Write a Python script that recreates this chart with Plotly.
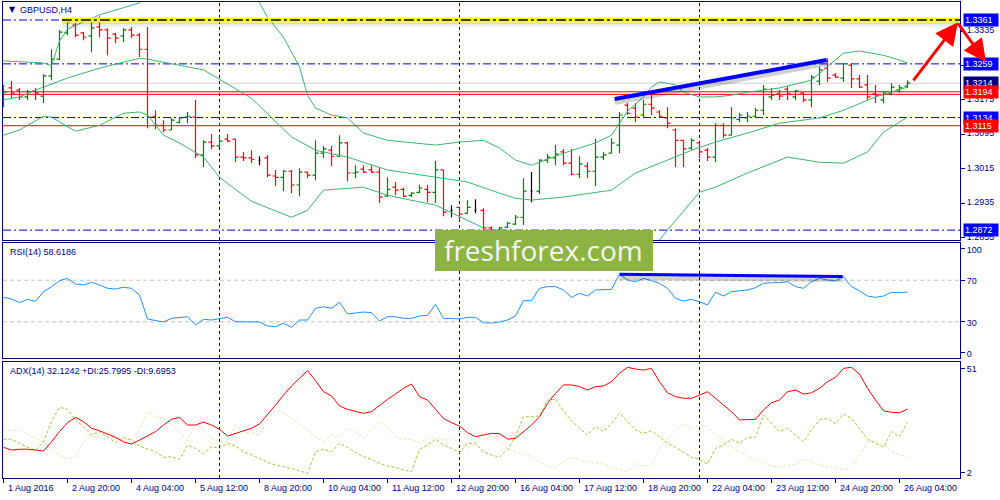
import plotly.graph_objects as go

# ------------------------------------------------------------------ data
x_label_bars = [0, 8, 16, 24, 32, 40, 48, 56, 64, 72, 80, 88, 96, 104, 112]
x_labels = ["1 Aug 2016", "2 Aug 20:00", "4 Aug 04:00", "5 Aug 12:00", "8 Aug 20:00",
            "10 Aug 04:00", "11 Aug 12:00", "12 Aug 20:00", "16 Aug 04:00", "17 Aug 12:00",
            "18 Aug 20:00", "22 Aug 04:00", "23 Aug 12:00", "24 Aug 20:00", "26 Aug 04:00"]
week_start_bars = [27, 57, 87]

opens = [1.3179, 1.3203, 1.3198, 1.3182, 1.3196, 1.3184, 1.3231, 1.3270, 1.3331, 1.3349,
         1.3331, 1.3324, 1.3345, 1.3338, 1.3328, 1.3324, 1.3338, 1.3326, 1.3293, 1.3137,
         1.3116, 1.3105, 1.3123, 1.3135, 1.3135, 1.3047, 1.3077, 1.3068, 1.3084, 1.3084,
         1.3042, 1.3040, 1.3035, 1.3040, 1.2998, 1.2995, 1.3009, 1.2977, 1.3007, 1.3000,
         1.3051, 1.3058, 1.3044, 1.3075, 1.3005, 1.3014, 1.3012, 1.3007, 1.2951, 1.2972,
         1.2967, 1.2953, 1.2960, 1.2967, 1.2960, 1.3012, 1.2918, 1.2925, 1.2911, 1.2918,
         1.2918, 1.2877, 1.2872, 1.2879, 1.2886, 1.2902, 1.2963, 1.2963, 1.3035, 1.3040,
         1.3054, 1.3028, 1.3002, 1.3021, 1.3009, 1.3042, 1.3051, 1.3070, 1.3163, 1.3156,
         1.3140, 1.3165, 1.3147, 1.3133, 1.3105, 1.3081, 1.3063, 1.3075, 1.3058, 1.3042,
         1.3116, 1.3093, 1.3130, 1.3133, 1.3137, 1.3151, 1.3182, 1.3189, 1.3200, 1.3182,
         1.3191, 1.3175, 1.3219, 1.3249, 1.3233, 1.3226, 1.3256, 1.3224, 1.3210, 1.3189,
         1.3175, 1.3189, 1.3198, 1.3207]
highs = [1.3210, 1.3219, 1.3203, 1.3198, 1.3203, 1.3235, 1.3293, 1.3338, 1.3363, 1.3354,
         1.3333, 1.3361, 1.3370, 1.3342, 1.3331, 1.3342, 1.3345, 1.3331, 1.3345, 1.3151,
         1.3128, 1.3133, 1.3133, 1.3147, 1.3175, 1.3081, 1.3096, 1.3091, 1.3096, 1.3084,
         1.3054, 1.3058, 1.3044, 1.3047, 1.3012, 1.3012, 1.3012, 1.3016, 1.3007, 1.3081,
         1.3068, 1.3068, 1.3093, 1.3077, 1.3023, 1.3023, 1.3023, 1.3019, 1.2995, 1.2984,
         1.2970, 1.2960, 1.2977, 1.2977, 1.3033, 1.3012, 1.2930, 1.2925, 1.2942, 1.2944,
         1.2923, 1.2881, 1.2879, 1.2891, 1.2907, 1.2993, 1.3007, 1.3037, 1.3049, 1.3070,
         1.3061, 1.3061, 1.3044, 1.3030, 1.3084, 1.3054, 1.3086, 1.3147, 1.3168, 1.3168,
         1.3175, 1.3186, 1.3151, 1.3158, 1.3109, 1.3081, 1.3086, 1.3077, 1.3063, 1.3121,
         1.3121, 1.3158, 1.3144, 1.3147, 1.3156, 1.3210, 1.3203, 1.3198, 1.3207, 1.3198,
         1.3193, 1.3233, 1.3252, 1.3272, 1.3238, 1.3261, 1.3261, 1.3233, 1.3233, 1.3210,
         1.3193, 1.3214, 1.3210, 1.3221]
lows = [1.3158, 1.3179, 1.3175, 1.3175, 1.3175, 1.3168, 1.3221, 1.3268, 1.3326, 1.3321,
        1.3314, 1.3286, 1.3321, 1.3279, 1.3307, 1.3310, 1.3319, 1.3275, 1.3109, 1.3107,
        1.3100, 1.3105, 1.3121, 1.3121, 1.3040, 1.3019, 1.3061, 1.3065, 1.3077, 1.3030,
        1.3033, 1.3028, 1.3023, 1.2995, 1.2974, 1.2963, 1.2958, 1.2951, 1.2993, 1.2988,
        1.3040, 1.3021, 1.3042, 1.2986, 1.2993, 1.3005, 1.3005, 1.2935, 1.2949, 1.2953,
        1.2949, 1.2949, 1.2958, 1.2937, 1.2935, 1.2904, 1.2902, 1.2895, 1.2911, 1.2911,
        1.2872, 1.2867, 1.2867, 1.2877, 1.2884, 1.2884, 1.2937, 1.2956, 1.3028, 1.3023,
        1.3023, 1.3000, 1.2993, 1.2993, 1.2974, 1.3035, 1.3051, 1.3051, 1.3140, 1.3123,
        1.3135, 1.3140, 1.3133, 1.3109, 1.3019, 1.3019, 1.3058, 1.3040, 1.3033, 1.3030,
        1.3086, 1.3093, 1.3123, 1.3123, 1.3135, 1.3140, 1.3175, 1.3175, 1.3175, 1.3175,
        1.3170, 1.3158, 1.3210, 1.3217, 1.3226, 1.3217, 1.3203, 1.3203, 1.3175, 1.3168,
        1.3168, 1.3186, 1.3191, 1.3203]
closes = [1.3193, 1.3191, 1.3182, 1.3193, 1.3191, 1.3231, 1.3270, 1.3333, 1.3356, 1.3326,
          1.3321, 1.3342, 1.3338, 1.3319, 1.3319, 1.3338, 1.3326, 1.3293, 1.3135, 1.3116,
          1.3105, 1.3128, 1.3133, 1.3137, 1.3047, 1.3077, 1.3068, 1.3079, 1.3079, 1.3042,
          1.3040, 1.3037, 1.3035, 1.3000, 1.2995, 1.3009, 1.2977, 1.3007, 1.3000, 1.3051,
          1.3061, 1.3044, 1.3075, 1.3005, 1.3007, 1.3007, 1.3007, 1.2949, 1.2967, 1.2965,
          1.2951, 1.2958, 1.2970, 1.2960, 1.3012, 1.2914, 1.2918, 1.2909, 1.2925, 1.2918,
          1.2877, 1.2872, 1.2877, 1.2888, 1.2902, 1.2963, 1.2963, 1.3035, 1.3042, 1.3049,
          1.3028, 1.3002, 1.3026, 1.3009, 1.3042, 1.3047, 1.3075, 1.3140, 1.3144, 1.3135,
          1.3165, 1.3156, 1.3137, 1.3121, 1.3081, 1.3061, 1.3081, 1.3054, 1.3042, 1.3116,
          1.3093, 1.3133, 1.3140, 1.3137, 1.3151, 1.3200, 1.3186, 1.3184, 1.3189, 1.3196,
          1.3175, 1.3228, 1.3245, 1.3226, 1.3228, 1.3259, 1.3224, 1.3205, 1.3182, 1.3186,
          1.3191, 1.3205, 1.3203, 1.3214]

bb_upper_bars = [0, 5, 6, 7, 8, 11, 12, 17, 20, 29, 32, 33, 35, 37, 38, 39, 41, 43, 45, 48,
                 54, 57, 60, 62, 64, 66, 70, 74, 76, 77, 78, 80, 81, 82, 84, 85, 87, 89, 91,
                 93, 97, 101, 103, 105, 107, 110, 112, 113]
bb_upper = [1.3266, 1.3261, 1.3255, 1.3312, 1.3340, 1.3366, 1.3373, 1.3401, 1.3460, 1.3460,
            1.3401, 1.3368, 1.3321, 1.3252, 1.3186, 1.3156, 1.3140, 1.3133, 1.3098, 1.3081,
            1.3070, 1.3077, 1.3081, 1.3063, 1.3035, 1.3023, 1.3051, 1.3075, 1.3093, 1.3121,
            1.3149, 1.3182, 1.3205, 1.3217, 1.3210, 1.3193, 1.3182, 1.3182, 1.3186,
            1.3193, 1.3203, 1.3221, 1.3252, 1.3284, 1.3289, 1.3279, 1.3268, 1.3261]
bb_mid_bars = [0, 2, 4, 8, 12, 17, 18, 25, 31, 32, 34, 36, 39, 43, 48, 54, 58, 62, 64, 66,
               70, 76, 79, 83, 86, 89, 93, 97, 102, 105, 109, 113]
bb_mid = [1.3175, 1.3182, 1.3198, 1.3226, 1.3249, 1.3272, 1.3270, 1.3245, 1.3179, 1.3161,
          1.3126, 1.3089, 1.3058, 1.3042, 1.3012, 1.2995, 1.2984, 1.2958, 1.2946, 1.2942,
          1.2949, 1.2965, 1.3005, 1.3035, 1.3058, 1.3077, 1.3098, 1.3121, 1.3133, 1.3151,
          1.3182, 1.3205]
bb_lower_bars = [0, 2, 5, 6, 9, 12, 15, 17, 18, 20, 22, 25, 27, 31, 36, 38, 40, 43, 45, 48,
                 54, 60, 61, 66, 75, 81, 82, 83, 87, 89, 93, 98, 102, 105, 108, 110, 113]
bb_lower = [1.3093, 1.3105, 1.3137, 1.3135, 1.3102, 1.3116, 1.3144, 1.3147, 1.3140, 1.3093,
            1.3075, 1.3042, 1.2995, 1.2939, 1.2902, 1.2918, 1.2965, 1.2970, 1.2972, 1.2953,
            1.2930, 1.2877, 1.2849, 1.2821, 1.2821, 1.2842, 1.2849, 1.2872, 1.2960, 1.2972,
            1.3005, 1.3042, 1.3030, 1.3028, 1.3054, 1.3100, 1.3135]

rsi = [53.5, 52, 48.4, 51.6, 49.7, 59, 63.8, 69.5, 71.8, 66.3,
       65.4, 68, 65.4, 62.2, 61.5, 63.2, 62.2, 55.8, 32.7, 31,
       29.8, 33.3, 34.3, 34.9, 26.9, 32.4, 31.7, 33.3, 34.3, 30.1,
       29.8, 29.5, 29.8, 26, 25.3, 28.6, 24.7, 31.7, 31.7, 43,
       44.5, 43, 48.8, 37.5, 38.8, 39.4, 38.8, 30.8, 34.9, 34.9,
       33.3, 33.3, 35.6, 36.2, 46.8, 33.3, 33.3, 32.7, 34.3, 34.3,
       29.1, 28.8, 29.8, 31.7, 35.6, 50.3, 50.3, 62.2, 63.8, 63.8,
       60.6, 53.5, 57.4, 54.8, 60.6, 61.2, 61.2, 75.7, 70.2, 68.6,
       71.8, 69.5, 67, 62.2, 52.6, 50, 51.6, 49.3, 46.2, 58.4,
       54.8, 59, 59.9, 60.6, 62.8, 67, 67.6, 67.6, 68.6, 63.8,
       62.2, 68.6, 71.8, 70.2, 69.5, 73.4, 63.8, 59.9, 54.8, 53.5,
       54.8, 58.4, 58, 58.6]

adx = [14.1, 12.8, 13.2, 13.2, 12.8, 12.4, 16.7, 21.5, 25.7, 28.2,
       26.2, 23.1, 21.9, 20.4, 18.8, 16.7, 15.6, 17.5, 19.5, 21.5,
       24.6, 27.3, 28.2, 24.6, 24.6, 26, 24.6, 22.6, 19.4, 20.7,
       21.9, 23.1, 25.1, 29.3, 34, 38.7, 43, 46.6, 50.2, 45.5,
       40.3, 38.3, 33.6, 32, 30.9, 30.1, 30.9, 34, 36.7, 39.2,
       41.9, 43.9, 38, 36.4, 32, 27.7, 25.7, 24.1, 21, 19.1,
       19.9, 20.7, 20.5, 18, 18.3, 21.5, 24.6, 28.5, 34.8, 39.5,
       43.5, 43.5, 42.7, 41.1, 42.7, 43, 45, 49, 51.8, 51,
       50.5, 51.3, 45, 39.8, 38, 37.2, 37.2, 38.7, 40.3, 37.2,
       34, 30.9, 27, 27, 27.3, 31.7, 35.1, 36.4, 40.3, 41.1,
       39.2, 39.8, 41.9, 45, 47.1, 51.3, 51.8, 48.6, 41.9, 36.4,
       31.3, 30.6, 30.4, 32.1]
plus_di = [17.9, 17.9, 16, 14.1, 12.8, 16.7, 26.2, 32.9, 32, 27,
           23.8, 19.9, 21.5, 18.8, 16.3, 18.8, 17.5, 14.7, 13.5, 12,
           9.4, 9.7, 8.4, 15.2, 13.6, 11, 14.4, 13.6, 16, 14.7,
           12, 10.5, 8.9, 7, 5.8, 5, 4.2, 3.1, 1.8, 12,
           13.2, 12, 16, 14.1, 11.6, 9.7, 8.4, 6.6, 5.3, 4.7,
           3.4, 2.6, 13.2, 15.2, 17.9, 15.2, 13.6, 11.6, 16, 16,
           12, 10.5, 9.5, 13.2, 19.1, 28.5, 28.5, 28.9, 36.4, 36.7,
           31.3, 26.6, 23.1, 19.9, 23.8, 21.5, 25.4, 30.1, 26.2, 22.3,
           20.7, 21.9, 19.1, 16, 14.1, 11.6, 9.4, 8.4, 6.2, 13.6,
           15.2, 17.9, 16, 18.8, 18.8, 29.3, 25.4, 21.5, 23.1, 19.9,
           16.7, 22.3, 27, 27.7, 25.4, 29.8, 27.7, 23.1, 17.9, 16,
           14.1, 21.5, 19.1, 25.8]
minus_di = [22.8, 21.8, 22.3, 20.4, 18.8, 16.7, 13.2, 10.5, 8.4, 9.7,
            16.7, 19.9, 18.3, 21.9, 19.1, 17.9, 17.5, 22.3, 30.9, 28.5,
            27.7, 25.4, 21, 17.5, 24.6, 22.3, 18.3, 16.7, 16.7, 24.6,
            21.5, 20.7, 19.9, 27, 31.7, 30.4, 27.7, 25.4, 22.3, 19.1,
            16.7, 19.9, 18.8, 23.1, 21.5, 18.3, 22.3, 26.2, 23.8, 18.8,
            17.9, 17.9, 16.3, 18.3, 18.8, 17.5, 18.8, 16, 13.6, 16,
            21.5, 19.9, 17, 13.6, 12, 11, 9.7, 7.3, 5, 4.7,
            7.3, 9.4, 8.4, 7.3, 6.8, 6.2, 4.7, 3.4, 2.6, 6.6,
            5.3, 5.7, 13.6, 18.3, 22.3, 25.4, 22.3, 24.6, 23.8, 19.9,
            17.5, 14.4, 12, 9.7, 8.4, 6.6, 5.3, 4.7, 5.5, 6.2,
            8.4, 7.3, 5.7, 5, 4.2, 3.4, 5, 10.5, 16.7, 17.2,
            15.2, 12, 10.5, 9.7]

price_ticks = [1.3335, 1.3255, 1.3175, 1.3095, 1.3015, 1.2935, 1.2855]
rsi_ticks = [100, 70, 30, 0]
rsi_levels = [70, 30]
adx_ticks = [51, 2]

blue_levels = [1.3361, 1.3259, 1.3134, 1.2872]
red_levels = [1.3194, 1.3188, 1.3115]
bid_level = 1.3214
yellow_level = 1.3361
yellow_start_bar = 7.3
box_values = [1.3361, 1.3259, 1.3214, 1.3194, 1.3134, 1.3115, 1.2872]
box_colors = ["#0000FF", "#0000FF", "#000080", "#FF0000", "#0000FF", "#FF0000", "#0000FF"]

price_trend_bars = [76.4, 102.9]
price_trend_vals = [1.3177, 1.3268]
rsi_trend_bars = [77.0, 104.9]
rsi_trend_vals = [75.7, 73.6]
arrow_up_from = (113.6, 1.3217)
arrow_up_to = (119.3, 1.3356)

symbol_label = "GBPUSD,H4"
rsi_label = "RSI(14) 58.6186"
adx_label = "ADX(14) 32.1242 +DI:25.7995 -DI:9.6953"
watermark = "freshforex.com"

# ------------------------------------------------------------------ style
FONT = "Liberation Sans, Arial, DejaVu Sans, sans-serif"
NAVY = "#000080"
X0, X1 = -0.0625, 119.5625
PRICE_RANGE = [1.2849, 1.3403]
RSI_RANGE = [-4.81, 105.77]
ADX_RANGE = [-0.356, 54.30]
DASHDOT = "8px,3px,2px,3px"

fig = go.Figure()

# OHLC bars
bars = list(range(len(closes)))
groups = [
    ([i for i in bars if closes[i] > opens[i]], "#008000"),
    ([i for i in bars if closes[i] < opens[i]], "#FF0000"),
    ([i for i in bars if closes[i] == opens[i]], "#000000"),
]
for idx, col in groups:
    if not idx:
        continue
    gaps = [b - a for a, b in zip(idx, idx[1:])]
    md = min(gaps) if gaps else 1
    fig.add_trace(go.Ohlc(
        x=idx, open=[opens[i] for i in idx], high=[highs[i] for i in idx],
        low=[lows[i] for i in idx], close=[closes[i] for i in idx],
        increasing=dict(line=dict(color=col, width=1.2)),
        decreasing=dict(line=dict(color=col, width=1.2)),
        tickwidth=min(0.5, 0.38 / md), hoverinfo="skip", xaxis="x", yaxis="y"))

# Bollinger bands
for xs, ys in [(bb_upper_bars, bb_upper), (bb_mid_bars, bb_mid), (bb_lower_bars, bb_lower)]:
    fig.add_trace(go.Scatter(x=xs, y=ys, mode="lines", line=dict(color="#3CB371", width=1),
                             hoverinfo="skip", xaxis="x", yaxis="y"))

# price trend line with shadow
fig.add_trace(go.Scatter(x=price_trend_bars, y=[v - 0.0007 for v in price_trend_vals], mode="lines",
                         line=dict(color="rgba(0,0,0,0.18)", width=6), hoverinfo="skip",
                         xaxis="x", yaxis="y"))
fig.add_trace(go.Scatter(x=price_trend_bars, y=price_trend_vals, mode="lines",
                         line=dict(color="#0000FF", width=4), hoverinfo="skip",
                         xaxis="x", yaxis="y"))

# RSI
fig.add_trace(go.Scatter(x=bars, y=rsi, mode="lines", line=dict(color="#1E90FF", width=1),
                         hoverinfo="skip", xaxis="x2", yaxis="y2"))
fig.add_trace(go.Scatter(x=rsi_trend_bars, y=[v - 3 for v in rsi_trend_vals], mode="lines",
                         line=dict(color="rgba(0,0,0,0.18)", width=5), hoverinfo="skip",
                         xaxis="x2", yaxis="y2"))
fig.add_trace(go.Scatter(x=rsi_trend_bars, y=rsi_trend_vals, mode="lines",
                         line=dict(color="#0000FF", width=3), hoverinfo="skip",
                         xaxis="x2", yaxis="y2"))

# ADX
fig.add_trace(go.Scatter(x=bars, y=minus_di, mode="lines",
                         line=dict(color="#F5DEB3", width=1, dash="3px,2px"),
                         hoverinfo="skip", xaxis="x3", yaxis="y3"))
fig.add_trace(go.Scatter(x=bars, y=plus_di, mode="lines",
                         line=dict(color="#9ACD32", width=1, dash="3px,2px"),
                         hoverinfo="skip", xaxis="x3", yaxis="y3"))
fig.add_trace(go.Scatter(x=bars, y=adx, mode="lines", line=dict(color="#FF0000", width=1),
                         hoverinfo="skip", xaxis="x3", yaxis="y3"))

shapes = []
# horizontal levels
shapes.append(dict(type="line", xref="x domain", x0=0, x1=1, yref="y", y0=bid_level, y1=bid_level,
                   line=dict(color="#D3D3D3", width=1), layer="below"))
for lv in red_levels:
    shapes.append(dict(type="line", xref="x domain", x0=0, x1=1, yref="y", y0=lv, y1=lv,
                       line=dict(color="#FF0000", width=1), layer="below"))
for lv in blue_levels:
    shapes.append(dict(type="line", xref="x domain", x0=0, x1=1, yref="y", y0=lv, y1=lv,
                       line=dict(color="#0000FF", width=1, dash=DASHDOT), layer="below"))
# yellow highlighted level with soft shadow
shapes.append(dict(type="rect", xref="x", x0=yellow_start_bar, x1=X1, yref="y",
                   y0=yellow_level - 0.0017, y1=yellow_level - 0.0006,
                   fillcolor="rgba(0,0,0,0.06)", line=dict(width=0), layer="above"))
shapes.append(dict(type="rect", xref="x", x0=yellow_start_bar, x1=X1, yref="y",
                   y0=yellow_level - 0.0010, y1=yellow_level - 0.0006,
                   fillcolor="rgba(0,0,0,0.10)", line=dict(width=0), layer="above"))
shapes.append(dict(type="line", xref="x", x0=yellow_start_bar, x1=X1, yref="y",
                   y0=yellow_level, y1=yellow_level, line=dict(color="#FFFF00", width=5), layer="above"))
shapes.append(dict(type="line", xref="x", x0=yellow_start_bar, x1=X1, yref="y",
                   y0=yellow_level, y1=yellow_level,
                   line=dict(color="#000000", width=1.5, dash="10px,3px,3px,3px"), layer="above"))
# RSI levels
for lv in rsi_levels:
    shapes.append(dict(type="line", xref="x2 domain", x0=0, x1=1, yref="y2", y0=lv, y1=lv,
                       line=dict(color="#C0C0C0", width=1, dash="4px,3px"), layer="below"))
# week separators
for b in week_start_bars:
    for xr, yr in [("x", "y domain"), ("x2", "y2 domain"), ("x3", "y3 domain")]:
        shapes.append(dict(type="line", xref=xr, x0=b, x1=b, yref=yr, y0=0, y1=1,
                           line=dict(color=NAVY, width=1, dash="3px,3px"), layer="below"))
# watermark box
shapes.append(dict(type="rect", xref="paper", x0=0.4514, x1=0.6792, yref="paper", y0=0.4349, y1=0.5210,
                   fillcolor="#8DB443", line=dict(width=0), layer="above"))

annotations = []
# watermark text
annotations.append(dict(text=watermark, xref="paper", yref="paper", x=0.5653, y=0.4790,
                        showarrow=False, font=dict(family="Open Sans, Noto Sans, sans-serif",
                                                   size=28, color="#F4F4F4"),
                        xanchor="center", yanchor="middle"))
# panel labels
annotations.append(dict(text="▼", xref="paper", yref="paper", x=0.0042, y=0.9832, showarrow=False,
                        font=dict(family="DejaVu Sans", size=8, color=NAVY), xanchor="left",
                        yanchor="middle"))
annotations.append(dict(text=symbol_label, xref="paper", yref="paper", x=0.0157, y=0.9832,
                        showarrow=False, font=dict(family=FONT, size=9, color=NAVY),
                        xanchor="left", yanchor="middle"))
annotations.append(dict(text=rsi_label, xref="paper", yref="paper", x=0.0052, y=0.4758,
                        showarrow=False, font=dict(family=FONT, size=9, color=NAVY),
                        xanchor="left", yanchor="middle"))
annotations.append(dict(text=adx_label, xref="paper", yref="paper", x=0.0052, y=0.2248,
                        showarrow=False, font=dict(family=FONT, size=9, color=NAVY),
                        xanchor="left", yanchor="middle"))
# x labels (left aligned at their tick)
for b, t in zip(x_label_bars, x_labels):
    annotations.append(dict(text=t, xref="x3", yref="paper", x=b, y=-0.021, xshift=2,
                            showarrow=False, font=dict(family=FONT, size=9, color=NAVY),
                            xanchor="left", yanchor="middle"))
# price boxes on the right axis
for v, c in zip(box_values, box_colors):
    annotations.append(dict(text=f"{v:.4f}", xref="paper", yref="y", x=1.0031, y=v,
                            showarrow=False, font=dict(family=FONT, size=9, color="#FFFFFF"),
                            xanchor="left", yanchor="middle", bgcolor=c, borderpad=1,
                            width=32, align="left"))
# red arrows
annotations.append(dict(text="", xref="x", yref="y", x=arrow_up_to[0], y=arrow_up_to[1],
                        axref="x", ayref="y", ax=arrow_up_from[0], ay=arrow_up_from[1],
                        showarrow=True, arrowhead=2, arrowsize=1.5, arrowwidth=3,
                        arrowcolor="#FF0000"))
annotations.append(dict(text="", xref="paper", yref="y", x=1.0272, y=1.3263,
                        ax=-29, ay=-40, showarrow=True, arrowhead=2, arrowsize=1.5,
                        arrowwidth=3, arrowcolor="#FF0000"))


def xax(anchor, **kw):
    d = dict(range=[X0, X1], domain=[0, 1], anchor=anchor, showgrid=False, zeroline=False,
             showline=True, mirror=True, linecolor=NAVY, linewidth=1, showticklabels=False,
             ticks="", fixedrange=True, rangeslider=dict(visible=False))
    d.update(kw)
    return d


def yax(anchor, dom, rng, tv, tt, **kw):
    d = dict(domain=dom, range=rng, anchor=anchor, side="right", showgrid=False, zeroline=False,
             showline=True, mirror=True, linecolor=NAVY, linewidth=1, tickvals=tv, ticktext=tt,
             ticks="outside", ticklen=4, tickcolor=NAVY,
             tickfont=dict(family=FONT, size=9, color=NAVY), fixedrange=True)
    d.update(kw)
    return d


fig.update_layout(
    width=1000, height=500,
    margin=dict(l=3, r=40, t=2, b=22),
    paper_bgcolor="#FFFFFF", plot_bgcolor="#FFFFFF",
    showlegend=False,
    xaxis=xax("y"),
    xaxis2=xax("y2", matches="x"),
    xaxis3=xax("y3", matches="x", ticks="outside", ticklen=4, tickcolor=NAVY,
               tickvals=x_label_bars),
    yaxis=yax("x", [0.5, 1.0], PRICE_RANGE, price_ticks, [f"{v:.4f}" for v in price_ticks],
              ticklabelshift=-1),
    yaxis2=yax("x2", [0.2521, 0.4937], RSI_RANGE, rsi_ticks, [str(v) for v in rsi_ticks],
               ticklabelshift=1),
    yaxis3=yax("x3", [0.0, 0.2437], ADX_RANGE, adx_ticks, [str(v) for v in adx_ticks]),
    shapes=shapes,
    annotations=annotations,
)

fig.write_html("out.html", config={"displayModeBar": False},
               post_script="document.body.style.margin='0';document.body.style.overflow='hidden';")
